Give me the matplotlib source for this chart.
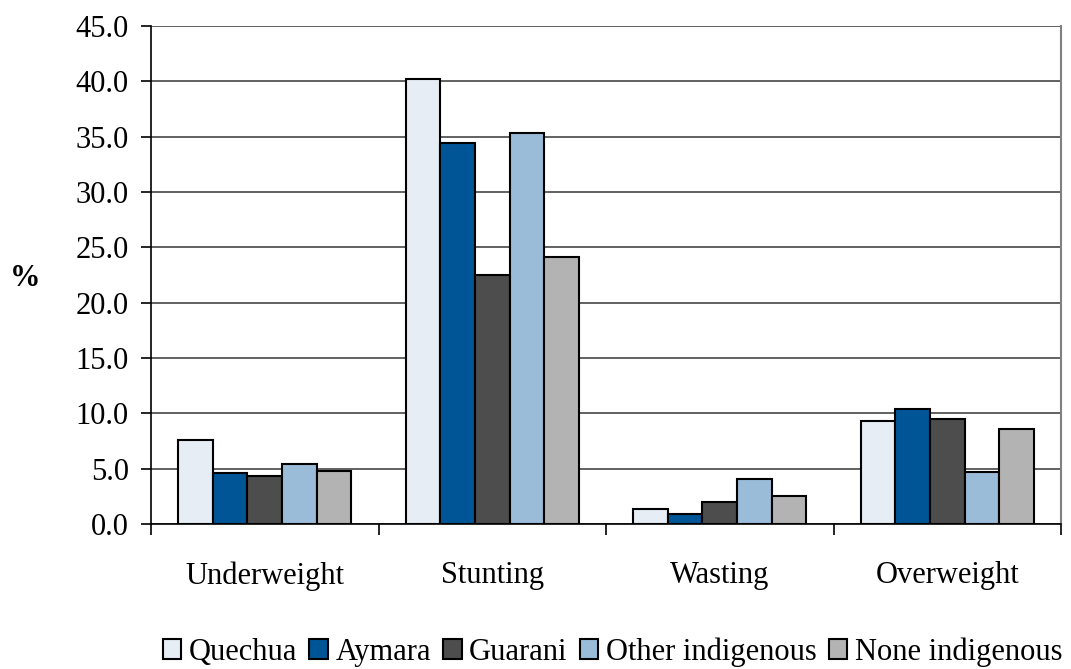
import numpy as np
import matplotlib.pyplot as plt

categories = ["Underweight", "Stunting", "Wasting", "Overweight"]
groups = ["Quechua", "Aymara", "Guarani", "Other indigenous", "None indigenous"]
quechua = [7.6, 40.2, 1.4, 9.3]
aymara = [4.6, 34.4, 0.9, 10.4]
guarani = [4.3, 22.5, 2.0, 9.5]
other_ind = [5.4, 35.3, 4.1, 4.7]
none_ind = [4.8, 24.1, 2.5, 8.6]
yticks = [0, 5, 10, 15, 20, 25, 30, 35, 40, 45]

series = [quechua, aymara, guarani, other_ind, none_ind]
colors = ["#e6edf4", "#005596", "#4d4d4d", "#9bbcd8", "#b3b3b3"]

plt.rcParams['font.family'] = ['Liberation Serif', 'DejaVu Serif']

fig = plt.figure(figsize=(10.71, 6.69), dpi=100)
ax = fig.add_axes([151/1071, 1-524/669, 910/1071, 498/669])

x = np.arange(len(categories))
w = 0.152
for i, (vals, c) in enumerate(zip(series, colors)):
    ax.bar(x + (i-2)*w, vals, w, color=c, edgecolor="black", linewidth=1.5,
           label=groups[i], zorder=3)

ax.set_xlim(-0.5, 3.5)
ax.set_ylim(0, 45)
ax.set_yticks(yticks)
ax.set_yticklabels([f"{v:.1f}" for v in yticks], fontsize=22)
ax.yaxis.grid(True, color="#555555", linewidth=1.3, zorder=0)

# category labels centred, ticks at boundaries
ax.set_xticks(x)
ax.set_xticklabels(categories, fontsize=22)
ax.tick_params(axis="x", length=0, pad=27)
ax.set_xticks(np.arange(-0.5, 4, 1), minor=True)
ax.tick_params(axis="x", which="minor", length=8, width=1.2, direction="out")
ax.tick_params(axis="y", length=7, width=1.2, direction="out", pad=9)

ax.spines["top"].set_visible(False)
ax.spines["right"].set_color("#808080")
ax.spines["right"].set_linewidth(1.5)
ax.spines["left"].set_linewidth(1.2)
ax.spines["bottom"].set_linewidth(1.2)

fig.text(25/1071, 1-278/669, "%", fontsize=22, fontweight="bold", ha="center", va="center")

fig.legend(loc="center", bbox_to_anchor=(0.572, 1-652/669), ncol=5, frameon=False,
           fontsize=22, handlelength=0.6, handleheight=0.6, handletextpad=0.25,
           columnspacing=0.4, borderpad=0)

fig.savefig("out.png", dpi=100)
